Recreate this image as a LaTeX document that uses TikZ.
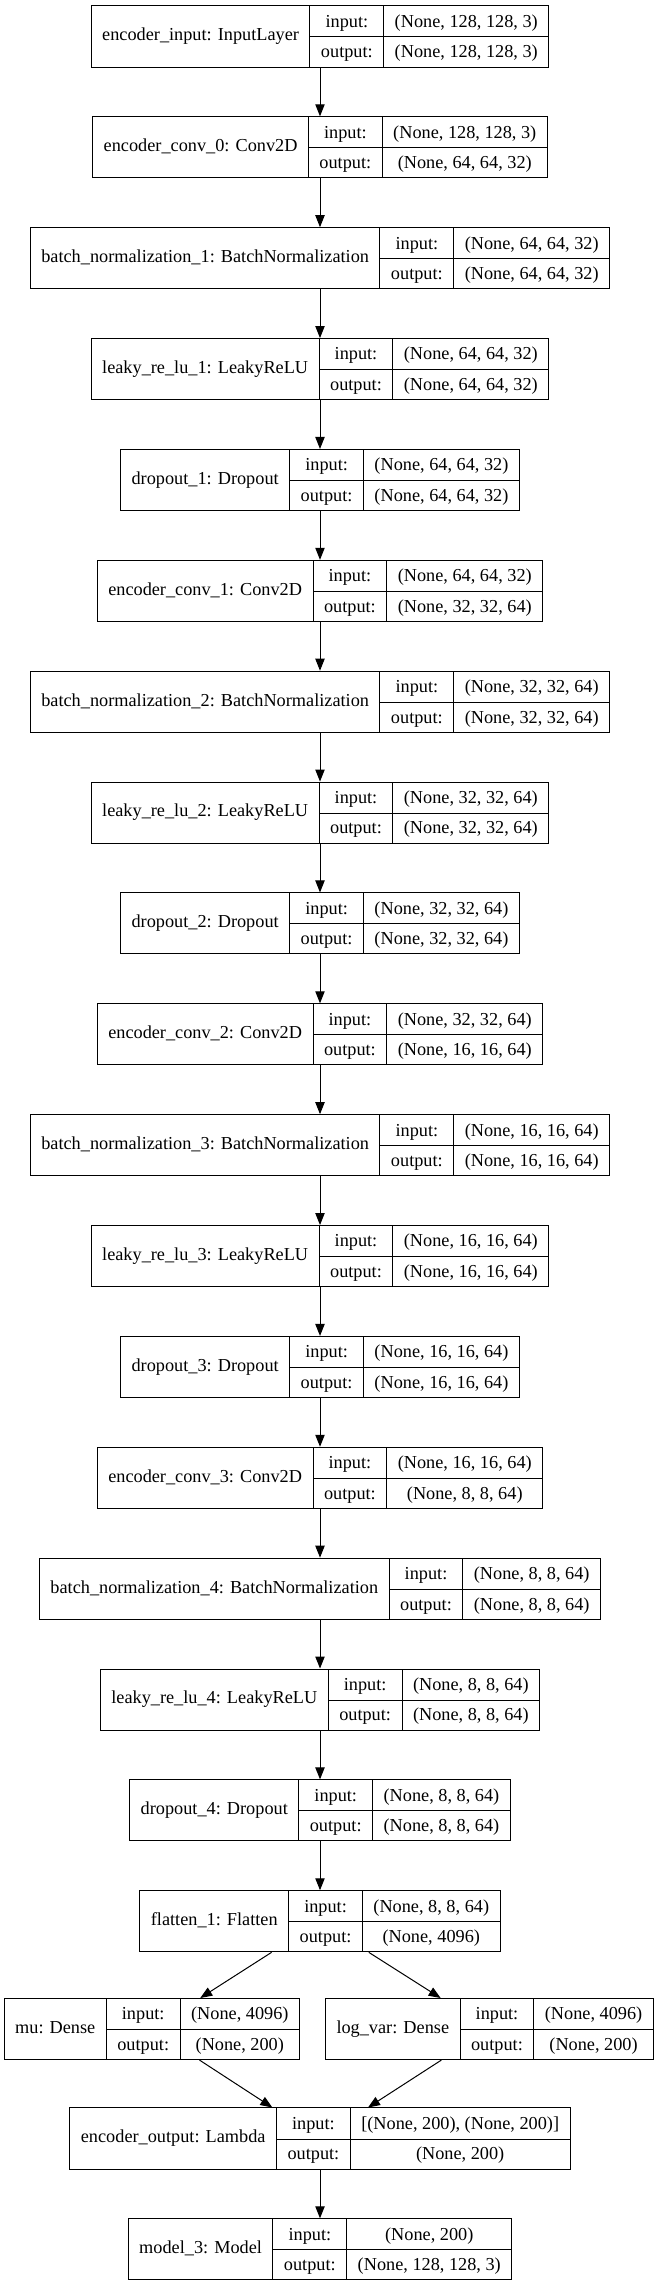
\documentclass[tikz,border=0pt]{standalone}
\usepackage{fontspec}
\setmainfont{Liberation Serif}
\usepackage{multirow}
\usetikzlibrary{positioning, arrows.meta}

\setlength{\tabcolsep}{8.25pt}
\setlength{\arrayrulewidth}{0.75pt}
\renewcommand{\arraystretch}{1.393}
\newcommand{\layer}[3]{\begin{tabular}{c|c|c}\multirow{2}{*}{#1} & input: & #2\\\cline{2-3} & output: & #3\end{tabular}}

\tikzset{
    rec/.style={draw, line width=0.75pt, inner sep=0pt, font=\fontsize{13.7pt}{16.44pt}\selectfont},
    arr/.style={-{Triangle[length=9pt,width=7pt]}, line width=0.75pt}
}

\begin{document}
\begin{tikzpicture}[x=0.75pt, y=-0.75pt, node distance=36.6pt]
\useasboundingbox (0,0) rectangle (658,2287);

\node[rec] (in) at (320,36.5) {\layer{encoder\_input: InputLayer}{(None, 128, 128, 3)}{(None, 128, 128, 3)}};
\node[rec, below=of in] (conv0) {\layer{encoder\_conv\_0: Conv2D}{(None, 128, 128, 3)}{(None, 64, 64, 32)}};
\node[rec, below=of conv0] (bn1) {\layer{batch\_normalization\_1: BatchNormalization}{(None, 64, 64, 32)}{(None, 64, 64, 32)}};
\node[rec, below=of bn1] (lr1) {\layer{leaky\_re\_lu\_1: LeakyReLU}{(None, 64, 64, 32)}{(None, 64, 64, 32)}};
\node[rec, below=of lr1] (do1) {\layer{dropout\_1: Dropout}{(None, 64, 64, 32)}{(None, 64, 64, 32)}};
\node[rec, below=of do1] (conv1) {\layer{encoder\_conv\_1: Conv2D}{(None, 64, 64, 32)}{(None, 32, 32, 64)}};
\node[rec, below=of conv1] (bn2) {\layer{batch\_normalization\_2: BatchNormalization}{(None, 32, 32, 64)}{(None, 32, 32, 64)}};
\node[rec, below=of bn2] (lr2) {\layer{leaky\_re\_lu\_2: LeakyReLU}{(None, 32, 32, 64)}{(None, 32, 32, 64)}};
\node[rec, below=of lr2] (do2) {\layer{dropout\_2: Dropout}{(None, 32, 32, 64)}{(None, 32, 32, 64)}};
\node[rec, below=of do2] (conv2) {\layer{encoder\_conv\_2: Conv2D}{(None, 32, 32, 64)}{(None, 16, 16, 64)}};
\node[rec, below=of conv2] (bn3) {\layer{batch\_normalization\_3: BatchNormalization}{(None, 16, 16, 64)}{(None, 16, 16, 64)}};
\node[rec, below=of bn3] (lr3) {\layer{leaky\_re\_lu\_3: LeakyReLU}{(None, 16, 16, 64)}{(None, 16, 16, 64)}};
\node[rec, below=of lr3] (do3) {\layer{dropout\_3: Dropout}{(None, 16, 16, 64)}{(None, 16, 16, 64)}};
\node[rec, below=of do3] (conv3) {\layer{encoder\_conv\_3: Conv2D}{(None, 16, 16, 64)}{(None, 8, 8, 64)}};
\node[rec, below=of conv3] (bn4) {\layer{batch\_normalization\_4: BatchNormalization}{(None, 8, 8, 64)}{(None, 8, 8, 64)}};
\node[rec, below=of bn4] (lr4) {\layer{leaky\_re\_lu\_4: LeakyReLU}{(None, 8, 8, 64)}{(None, 8, 8, 64)}};
\node[rec, below=of lr4] (do4) {\layer{dropout\_4: Dropout}{(None, 8, 8, 64)}{(None, 8, 8, 64)}};
\node[rec, below=of do4] (flat) {\layer{flatten\_1: Flatten}{(None, 8, 8, 64)}{(None, 4096)}};
\node[rec, anchor=north east] (mu) at (300,1998) {\layer{mu: Dense}{(None, 4096)}{(None, 200)}};
\node[rec, anchor=north west] (logvar) at (325,1998) {\layer{log\_var: Dense}{(None, 4096)}{(None, 200)}};
\node[rec] (out) at (320,2138.5) {\layer{encoder\_output: Lambda}{[(None, 200), (None, 200)]}{(None, 200)}};
\node[rec, below=of out] (model) {\layer{model\_3: Model}{(None, 200)}{(None, 128, 128, 3)}};

\draw[arr] (in) -- (conv0);
\draw[arr] (conv0) -- (bn1);
\draw[arr] (bn1) -- (lr1);
\draw[arr] (lr1) -- (do1);
\draw[arr] (do1) -- (conv1);
\draw[arr] (conv1) -- (bn2);
\draw[arr] (bn2) -- (lr2);
\draw[arr] (lr2) -- (do2);
\draw[arr] (do2) -- (conv2);
\draw[arr] (conv2) -- (bn3);
\draw[arr] (bn3) -- (lr3);
\draw[arr] (lr3) -- (do3);
\draw[arr] (do3) -- (conv3);
\draw[arr] (conv3) -- (bn4);
\draw[arr] (bn4) -- (lr4);
\draw[arr] (lr4) -- (do4);
\draw[arr] (do4) -- (flat);
\draw[arr] (flat) -- (mu);
\draw[arr] (flat) -- (logvar);
\draw[arr] (mu) -- (out);
\draw[arr] (logvar) -- (out);
\draw[arr] (out) -- (model);
\end{tikzpicture}
\end{document}
